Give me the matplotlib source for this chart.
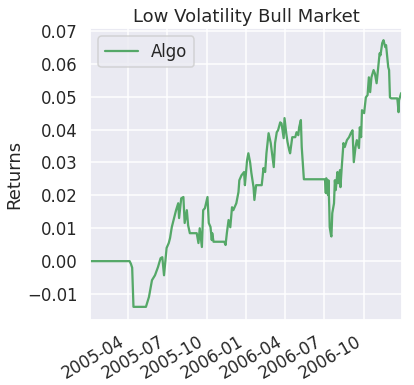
import matplotlib
matplotlib.use("Agg")
import matplotlib.pyplot as plt
import matplotlib.dates as mdates
import seaborn as sns
import pandas as pd

sns.set_theme(style="darkgrid", context="talk")

title = "Low Volatility Bull Market"
ylabel = "Returns"
series_name = "Algo"

dates = [
    "2005-01-03", "2005-04-05", "2005-04-08", "2005-04-11", "2005-04-14",
    "2005-05-13", "2005-05-20", "2005-05-27", "2005-06-03", "2005-06-10",
    "2005-06-16", "2005-06-20", "2005-06-24", "2005-06-30", "2005-07-05",
    "2005-07-08", "2005-07-12", "2005-07-18", "2005-07-22", "2005-07-27",
    "2005-07-29", "2005-08-03", "2005-08-08", "2005-08-11", "2005-08-16",
    "2005-08-19", "2005-08-23", "2005-09-08", "2005-09-12", "2005-09-15",
    "2005-09-20", "2005-09-23", "2005-09-27", "2005-10-03", "2005-10-06",
    "2005-10-10", "2005-10-13", "2005-10-14", "2005-10-17", "2005-11-11",
    "2005-11-14", "2005-11-17", "2005-11-21", "2005-11-25", "2005-11-29",
    "2005-12-02", "2005-12-09", "2005-12-14", "2005-12-16", "2005-12-21",
    "2005-12-27", "2005-12-29", "2006-01-03", "2006-01-06", "2006-01-10",
    "2006-01-13", "2006-01-18", "2006-01-20", "2006-01-24", "2006-02-06",
    "2006-02-08", "2006-02-10", "2006-02-14", "2006-02-17", "2006-02-22",
    "2006-02-27", "2006-03-02", "2006-03-06", "2006-03-09", "2006-03-13",
    "2006-03-16", "2006-03-21", "2006-03-24", "2006-03-29", "2006-03-31",
    "2006-04-04", "2006-04-07", "2006-04-11", "2006-04-13", "2006-04-18",
    "2006-04-25", "2006-04-28", "2006-05-02", "2006-05-04", "2006-05-08",
    "2006-05-10", "2006-05-15", "2006-07-03", "2006-07-05", "2006-07-06",
    "2006-07-10", "2006-07-11", "2006-07-13", "2006-07-14", "2006-07-17",
    "2006-07-18", "2006-07-20", "2006-07-24", "2006-07-26", "2006-07-28",
    "2006-08-01", "2006-08-03", "2006-08-07", "2006-08-08", "2006-08-11",
    "2006-08-15", "2006-08-18", "2006-08-23", "2006-08-28", "2006-09-01",
    "2006-09-05", "2006-09-08", "2006-09-12", "2006-09-15", "2006-09-20",
    "2006-09-22", "2006-09-25", "2006-09-27", "2006-10-02", "2006-10-06",
    "2006-10-10", "2006-10-13", "2006-10-16", "2006-10-19", "2006-10-24",
    "2006-10-27", "2006-10-31", "2006-11-03", "2006-11-07", "2006-11-09",
    "2006-11-13", "2006-11-16", "2006-11-20", "2006-11-22", "2006-11-27",
    "2006-11-29", "2006-12-01", "2006-12-04", "2006-12-18", "2006-12-19",
    "2006-12-21", "2006-12-22", "2006-12-27", "2006-12-29",
]

returns = [
    0.0, 0.0, -0.0008, -0.0020, -0.0139,
    -0.0139, -0.0109, -0.0058, -0.0043, -0.0018,
    0.0009, 0.0012, -0.0043, 0.0040, 0.0055,
    0.0070, 0.0103, 0.0134, 0.0155, 0.0176,
    0.0131, 0.0191, 0.0195, 0.0116, 0.0155,
    0.0109, 0.0085, 0.0085, 0.0055, 0.0100,
    0.0043, 0.0155, 0.0161, 0.0195, 0.0116,
    0.0104, 0.0064, 0.0085, 0.0059, 0.0059,
    0.0049, 0.0085, 0.0125, 0.0103, 0.0164,
    0.0155, 0.0176, 0.0210, 0.0246, 0.0261,
    0.0271, 0.0231, 0.0307, 0.0328, 0.0301,
    0.0268, 0.0225, 0.0186, 0.0231, 0.0231,
    0.0255, 0.0283, 0.0271, 0.0328, 0.0389,
    0.0359, 0.0328, 0.0286, 0.0359, 0.0392,
    0.0398, 0.0422, 0.0419, 0.0374, 0.0435,
    0.0389, 0.0362, 0.0337, 0.0328, 0.0377,
    0.0377, 0.0392, 0.0383, 0.0407, 0.0429,
    0.0347, 0.0249, 0.0249, 0.0207, 0.0252,
    0.0201, 0.0246, 0.0164, 0.0103, 0.0079,
    0.0075, 0.0146, 0.0176, 0.0246, 0.0216,
    0.0271, 0.0237, 0.0277, 0.0225, 0.0286,
    0.0359, 0.0347, 0.0368, 0.0377, 0.0389,
    0.0398, 0.0301, 0.0347, 0.0368, 0.0344,
    0.0407, 0.0377, 0.0459, 0.0450, 0.0498,
    0.0505, 0.0559, 0.0514, 0.0559, 0.0581,
    0.0571, 0.0541, 0.0581, 0.0632, 0.0626,
    0.0663, 0.0672, 0.0651, 0.0657, 0.0590,
    0.0581, 0.0498, 0.0495, 0.0495, 0.0483,
    0.0453, 0.0489, 0.0511, 0.0505,
]

x = pd.to_datetime(dates)

fig = plt.figure(figsize=(414 / 72, 385 / 72), dpi=72)
ax = fig.add_axes([90 / 414, 65 / 385, 312 / 414, 292 / 385])
ax.plot(x, returns, color="#55A868", linewidth=2.25, label=series_name)
ax.set_xlim(x[0], x[-1])
ax.set_ylim(-0.0179, 0.0709)
ax.set_yticks([-0.01, 0.0, 0.01, 0.02, 0.03, 0.04, 0.05, 0.06, 0.07])
ax.xaxis.set_major_locator(mdates.MonthLocator(bymonth=[1, 4, 7, 10]))
ax.xaxis.set_major_formatter(mdates.DateFormatter("%Y-%m"))
for lbl in ax.get_xticklabels():
    lbl.set_rotation(30)
    lbl.set_ha("right")
ax.set_title(title)
ax.set_ylabel(ylabel)
ax.legend(loc="upper left")
fig.savefig("out.png", dpi=72)
